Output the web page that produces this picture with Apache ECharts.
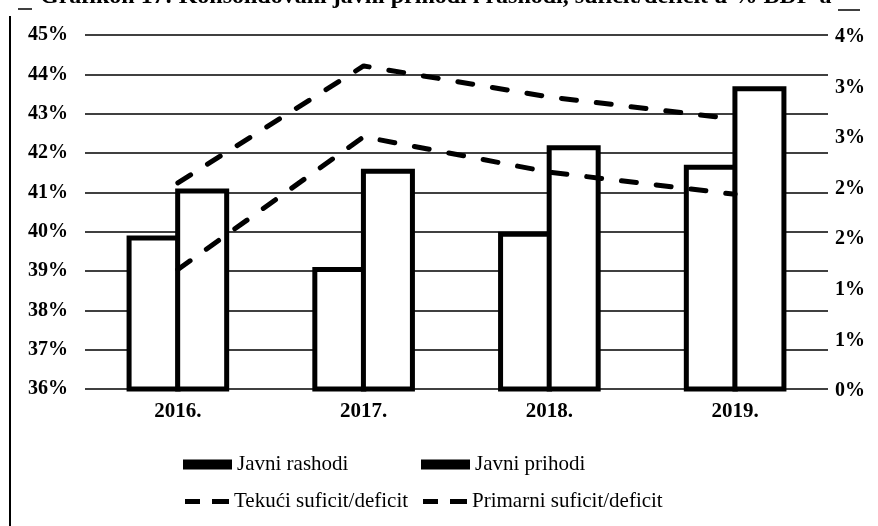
<!DOCTYPE html>
<html>
<head>
<meta charset="utf-8">
<script src="https://cdn.jsdelivr.net/npm/echarts@6/dist/echarts.min.js"></script>
<style>
  html, body { margin: 0; padding: 0; background: #fff; }
  #chart { width: 878px; height: 526px; }
</style>
</head>
<body>
<div id="chart"></div>
<script>
// podaci
const years = ['2016.', '2017.', '2018.', '2019.'];
const rashodi = [39.9, 39.1, 40.0, 41.7];
const prihodi = [41.1, 41.6, 42.2, 43.7];
const tekuci = [1.35, 2.85, 2.45, 2.2];
const primarni = [2.33, 3.65, 3.3, 3.05];
const leftTicks = [36, 45, 1];       // min, max, interval
const rightTicks = [0, 4, 4 / 7];

const FONT = 'Liberation Serif, Times New Roman, serif';
const title = 'Grafikon 17: Konsolidovani javni prihodi i rashodi, suficit/deficit u % BDP-a';

const chart = echarts.init(document.getElementById('chart'));

const dashed = { color: '#000', width: 5, type: [15, 20], cap: 'round' };
const legendText = { fontFamily: FONT, fontSize: 21, color: '#000' };
const dashIcon = 'path://M0,0H15V5H0Z M27,0H44V5H27Z';

chart.setOption({
  animation: false,
  backgroundColor: '#fff',
  grid: { left: 85, right: 50, top: 35, bottom: 137, containLabel: false },
  legend: [
    { data: [{ name: 'Javni rashodi', icon: 'rect' }], left: 183, top: 454, padding: 0,
      itemWidth: 49, itemHeight: 10, itemGap: 5,
      itemStyle: { color: '#000', borderWidth: 0 }, textStyle: legendText },
    { data: [{ name: 'Javni prihodi', icon: 'rect' }], left: 421, top: 454, padding: 0,
      itemWidth: 49, itemHeight: 10, itemGap: 5,
      itemStyle: { color: '#000', borderWidth: 0 }, textStyle: legendText },
    { data: [{ name: 'Tekući suficit/deficit', icon: dashIcon }], left: 185, top: 491, padding: 0,
      itemWidth: 44, itemHeight: 5, itemGap: 9,
      itemStyle: { color: '#000', borderWidth: 0 }, textStyle: legendText },
    { data: [{ name: 'Primarni suficit/deficit', icon: dashIcon }], left: 423, top: 491, padding: 0,
      itemWidth: 44, itemHeight: 5, itemGap: 9,
      itemStyle: { color: '#000', borderWidth: 0 }, textStyle: legendText }
  ],
  xAxis: {
    type: 'category',
    data: years,
    axisLine: { show: false },
    axisTick: { show: false },
    axisLabel: { fontFamily: FONT, fontWeight: 'bold', fontSize: 21, color: '#000', margin: 12 }
  },
  yAxis: [
    {
      type: 'value',
      min: leftTicks[0], max: leftTicks[1], interval: leftTicks[2],
      axisLine: { show: false },
      axisTick: { show: false },
      splitLine: { show: true, lineStyle: { color: '#000', width: 1.5 } },
      axisLabel: { fontFamily: FONT, fontWeight: 'bold', fontSize: 20, color: '#000', margin: 17,
        formatter: v => v + '%' }
    },
    {
      type: 'value',
      min: rightTicks[0], max: rightTicks[1], interval: rightTicks[2],
      axisLine: { show: false },
      axisTick: { show: false },
      splitLine: { show: false },
      axisLabel: { fontFamily: FONT, fontWeight: 'bold', fontSize: 20, color: '#000', margin: 7,
        verticalAlign: 'top', padding: [-8, 0, 0, 0],
        formatter: v => Math.round(v) + '%' }
    }
  ],
  graphic: [
    { type: 'text', left: 40, top: -15,
      style: { text: title, font: 'bold 24px ' + FONT, fill: '#000' } },
    { type: 'line', shape: { x1: 10, y1: 16, x2: 10, y2: 526 }, style: { stroke: '#000', lineWidth: 2 } },
    { type: 'line', shape: { x1: 18, y1: 9, x2: 32, y2: 9 }, style: { stroke: '#000', lineWidth: 1.5 } },
    { type: 'line', shape: { x1: 838, y1: 10, x2: 860, y2: 10 }, style: { stroke: '#000', lineWidth: 1.5 } }
  ],
  series: [
    { name: 'Javni rashodi', type: 'bar', data: rashodi, barWidth: 54, barGap: '-10%',
      itemStyle: { color: '#fff', borderColor: '#000', borderWidth: 5 } },
    { name: 'Javni prihodi', type: 'bar', data: prihodi, barWidth: 54, barGap: '-10%',
      itemStyle: { color: '#fff', borderColor: '#000', borderWidth: 5 } },
    { name: 'Tekući suficit/deficit', type: 'line', yAxisIndex: 1, data: tekuci,
      symbol: 'none', lineStyle: dashed, itemStyle: { color: '#000' }, z: 5 },
    { name: 'Primarni suficit/deficit', type: 'line', yAxisIndex: 1, data: primarni,
      symbol: 'none', lineStyle: dashed, itemStyle: { color: '#000' }, z: 5 }
  ]
});
</script>
</body>
</html>
